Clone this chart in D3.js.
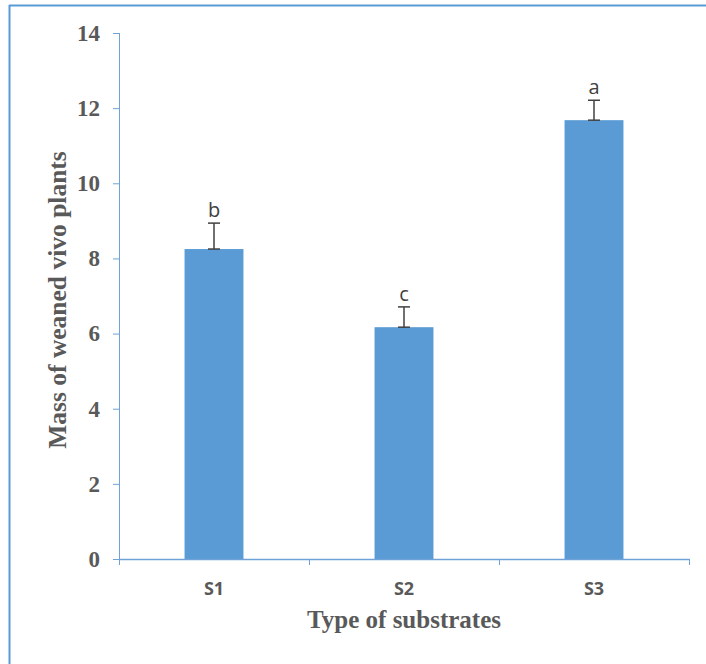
<!DOCTYPE html>
<html>
<head>
<meta charset="utf-8">
<script src="https://cdn.jsdelivr.net/npm/d3@7"></script>
<style>
  body { margin: 0; background: #fff; }
</style>
</head>
<body>
<div id="chart"></div>
<script>
// chart data
const categories = ["S1", "S2", "S3"];
const means = [8.25, 6.17, 11.68];
const errors = [0.69, 0.54, 0.53];
const letters = ["b", "c", "a"];
const yTicks = [0, 2, 4, 6, 8, 10, 12, 14];

const W = 706, H = 664;
const margin = {top: 33, right: 17, bottom: 105, left: 119},
    width = W - margin.left - margin.right,
    height = H - margin.top - margin.bottom;

const svg = d3.select("#chart").append("svg")
    .attr("width", W).attr("height", H);

// outer frame (only left and top visible in the original)
svg.append("line").attr("x1", 9.5).attr("x2", 9.5).attr("y1", 5).attr("y2", H)
    .attr("stroke", "#5b9bd5").attr("stroke-width", 2);
svg.append("line").attr("x1", 9).attr("x2", W).attr("y1", 5.5).attr("y2", 5.5)
    .attr("stroke", "#5b9bd5").attr("stroke-width", 2);

const g = svg.append("g")
    .attr("transform", "translate(" + margin.left + "," + margin.top + ")");

const x = d3.scaleBand().domain(categories).range([0, width]).paddingInner(0).paddingOuter(0);
const y = d3.scaleLinear().domain([0, 14]).range([height, 0]);

const axisColor = "#6fa3d8";
const serif = "'Liberation Serif', 'Times New Roman', serif";
const sans = "'Open Sans', 'Liberation Sans', sans-serif";

// y axis
const yAxis = g.append("g")
    .call(d3.axisLeft(y).tickValues(yTicks).tickSize(6).tickPadding(13));
yAxis.select(".domain").attr("stroke", axisColor).attr("d", "M0.5," + height + "V0");
yAxis.selectAll(".tick line").attr("stroke", axisColor);
yAxis.selectAll("text")
    .style("font-family", serif)
    .style("font-weight", "bold").style("font-size", "23px").attr("fill", "#595959");

// bars
const bw = x.bandwidth() * 0.31;
g.selectAll(".bar").data(categories).enter().append("rect")
    .attr("x", (d, i) => x(d) + x.bandwidth() / 2 - bw / 2)
    .attr("y", (d, i) => y(means[i]))
    .attr("width", bw)
    .attr("height", (d, i) => height - y(means[i]))
    .attr("fill", "#5b9bd5");

// x axis
const xAxis = g.append("g").attr("transform", "translate(0," + height + ")")
    .call(d3.axisBottom(x).tickSize(0).tickPadding(23));
xAxis.select(".domain").attr("stroke", axisColor).attr("stroke-width", 1.5);
xAxis.selectAll("text")
    .style("font-family", sans)
    .style("font-weight", "bold").style("font-size", "18px").attr("fill", "#595959");
// category boundary ticks
const bounds = [0].concat(categories.map(c => x(c) + x.bandwidth()));
g.selectAll(".xtick").data(bounds).enter().append("line")
    .attr("x1", d => d + 0.5).attr("x2", d => d + 0.5)
    .attr("y1", height).attr("y2", height + 6)
    .attr("stroke", axisColor);

// error bars (upper only)
const cx = (d) => x(d) + x.bandwidth() / 2;
const err = g.selectAll(".err").data(categories).enter().append("g");
err.append("line")
    .attr("x1", d => cx(d)).attr("x2", d => cx(d))
    .attr("y1", (d, i) => y(means[i])).attr("y2", (d, i) => y(means[i] + errors[i]))
    .attr("stroke", "#404040").attr("stroke-width", 1.5);
err.append("line")
    .attr("x1", d => cx(d) - 6).attr("x2", d => cx(d) + 6)
    .attr("y1", (d, i) => y(means[i] + errors[i])).attr("y2", (d, i) => y(means[i] + errors[i]))
    .attr("stroke", "#404040").attr("stroke-width", 1.5);
err.append("line")
    .attr("x1", d => cx(d) - 6).attr("x2", d => cx(d) + 6)
    .attr("y1", (d, i) => y(means[i])).attr("y2", (d, i) => y(means[i]))
    .attr("stroke", "#404040").attr("stroke-width", 1.5);

// significance letters
err.append("text")
    .attr("x", d => cx(d))
    .attr("y", (d, i) => y(means[i] + errors[i]) - 6)
    .attr("text-anchor", "middle")
    .style("font-family", sans)
    .style("font-size", "20px").attr("fill", "#404040")
    .text((d, i) => letters[i]);

// axis titles
svg.append("text")
    .attr("x", margin.left + width / 2).attr("y", 628)
    .attr("text-anchor", "middle")
    .style("font-family", serif)
    .style("font-weight", "bold").style("font-size", "25px").attr("fill", "#595959")
    .text("Type of substrates");

svg.append("text")
    .attr("transform", "translate(66,300) rotate(-90)")
    .attr("text-anchor", "middle")
    .style("font-family", serif)
    .style("font-weight", "bold").style("font-size", "25.5px").attr("fill", "#595959")
    .text("Mass of weaned vivo plants");
</script>
</body>
</html>
